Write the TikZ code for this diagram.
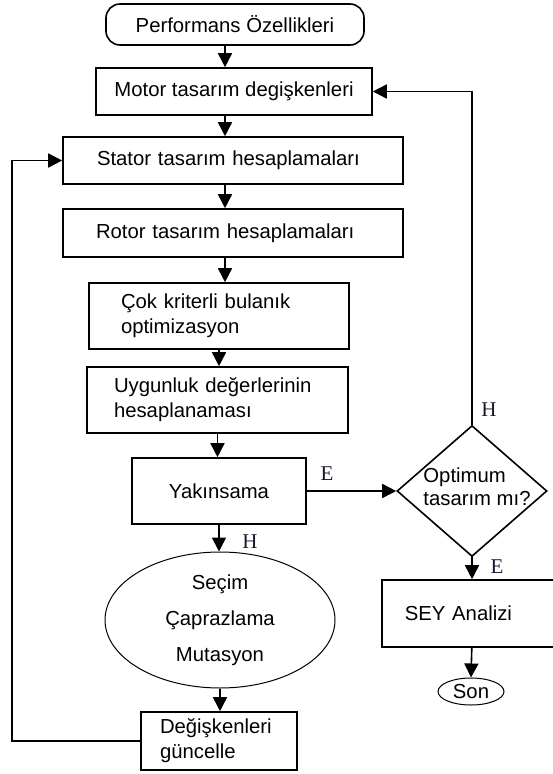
\documentclass[tikz,border=0pt]{standalone}
\usepackage{fontspec}
\setmainfont{Liberation Sans}
\newfontfamily\harf{Liberation Serif}
\usetikzlibrary{shapes.geometric,arrows.meta}
\definecolor{etiket}{RGB}{25,25,45}

\begin{document}
\begin{tikzpicture}[x=1pt,y=-1pt,
  kutu/.style={draw,line width=1.6pt,inner sep=0pt,font=\fontsize{20.3}{25}\selectfont},
  ok/.style={line width=1.6pt,-{Triangle[length=14pt,width=14pt]}},
  yanit/.style={font=\harf\fontsize{21}{21}\selectfont,text=etiket,inner sep=0pt}]
\path[use as bounding box,fill=white] (0,0) rectangle (552,774);
\node[kutu,rounded corners=14pt,minimum width=258pt,minimum height=41pt] (perf) at (235,24.5) {Performans Özellikleri};
\node[kutu,minimum width=276pt,minimum height=47pt] (motor) at (234,91.5) {Motor tasarım degişkenleri};
\node[kutu,text width=272pt,inner xsep=34pt,minimum height=47pt,align=left] (stator) at (233,160.5) {Stator tasarım hesaplamaları};
\node[kutu,text width=274pt,inner xsep=33pt,minimum height=48pt,align=left] (rotor) at (233,233) {Rotor tasarım hesaplamaları};
\node[kutu,text width=196pt,inner xsep=32pt,minimum height=66pt,align=left] (cok) at (219,316) {Çok kriterli bulanık\\optimizasyon};
\node[kutu,text width=207pt,inner xsep=27pt,minimum height=66pt,align=left] (uyg) at (217.5,400) {Uygunluk değerlerinin\\hesaplanaması};
\node[kutu,minimum width=174pt,minimum height=66pt] (yak) at (219,491) {Yakınsama};
\node[kutu,ellipse,line width=1pt,minimum width=230pt,minimum height=136pt,align=center] (sec) at (220,620) {Seçim\\[11pt]Çaprazlama\\[11pt]Mutasyon};
\node[kutu,text width=118pt,inner xsep=19pt,minimum height=58pt,align=left] (deg) at (219,741) {Değişkenleri\\güncelle};
\node[kutu,diamond,minimum width=150pt,minimum height=131pt] (opt) at (472,491) {};
\node[font=\fontsize{20.3}{23}\selectfont,align=left,inner sep=0pt] (optyazi) at (477,487) {Optimum\\tasarım mı?};
\node[kutu,anchor=west,text width=134pt,inner xsep=23pt,minimum height=67pt,align=left] (sey) at (381,613.5) {SEY Analizi};
\node[kutu,ellipse,line width=1pt,minimum width=66pt,minimum height=27pt] (son) at (471,691.5) {Son};
\coordinate (omurga) at (225,0);
\coordinate (sol) at (12,0);
\draw[ok] (perf.south -| omurga) -- (motor.north -| omurga);
\draw[ok] (motor.south -| omurga) -- (stator.north -| omurga);
\draw[ok] (stator.south -| omurga) -- (rotor.north -| omurga);
\draw[ok] (rotor.south -| omurga) -- (cok.north -| omurga);
\draw[ok] (cok.south) -- (cok.south |- uyg.north);
\draw[ok] (uyg.south) -- (uyg.south |- yak.north);
\draw[ok] (yak.south) -- (yak.south |- sec.north);
\draw[ok] (sec.south) -- (sec.south |- deg.north);
\draw[ok] (yak.east) -- (opt.west);
\draw[ok] (opt.south) -- (opt.south |- sey.north);
\draw[ok] (sey.south) -- (son.north);
\draw[ok] (opt.north) |- (motor.east);
\draw[ok] (deg.west) -- (deg.west -| sol) |- (stator.west);
\node[yanit] (e1) at (327,474) {E};
\node[yanit] (h1) at (489,410) {H};
\node[yanit] (e2) at (497,567) {E};
\node[yanit] (h2) at (250,542) {H};
\end{tikzpicture}
\end{document}
